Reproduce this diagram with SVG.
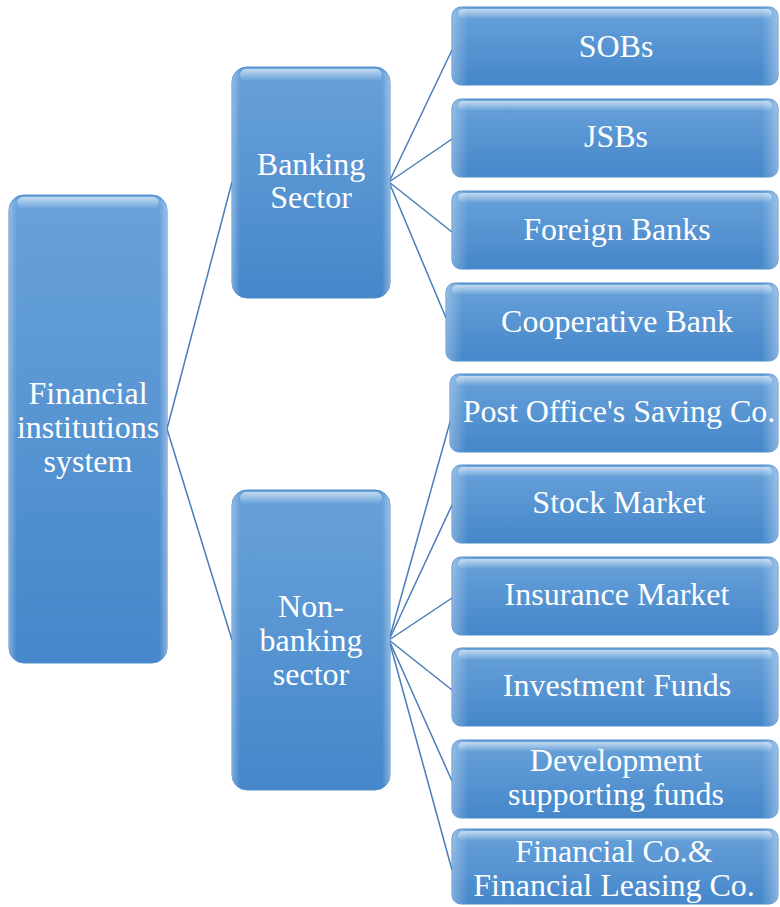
<svg xmlns="http://www.w3.org/2000/svg" width="780" height="907" viewBox="0 0 780 907">
<defs>
<linearGradient id="fill" x1="0" y1="0" x2="0" y2="1">
<stop offset="0" stop-color="#68a2da"/>
<stop offset="0.5" stop-color="#5794d2"/>
<stop offset="1" stop-color="#4587ca"/>
</linearGradient>
<linearGradient id="gloss" x1="0" y1="0" x2="0" y2="1">
<stop offset="0" stop-color="#ffffff" stop-opacity="0.6"/>
<stop offset="1" stop-color="#ffffff" stop-opacity="0"/>
</linearGradient>
<linearGradient id="side" x1="0" y1="0" x2="1" y2="0">
<stop offset="0" stop-color="#ffffff" stop-opacity="0.3"/>
<stop offset="0.05" stop-color="#ffffff" stop-opacity="0"/>
<stop offset="0.95" stop-color="#ffffff" stop-opacity="0"/>
<stop offset="1" stop-color="#ffffff" stop-opacity="0.35"/>
</linearGradient>
</defs>
<style>
.box{fill:url(#fill);stroke:#4d8bcb;stroke-width:1}
.side{fill:url(#side)}
.gl{fill:url(#gloss)}
.t{font-family:"Liberation Serif","Times New Roman",serif;font-size:32px;fill:#ffffff;text-anchor:middle}
.c{stroke:#4a7db8;stroke-width:1.5;fill:none}
</style>
<g id="connectors">
<line class="c" x1="167" y1="429" x2="232" y2="182"/>
<line class="c" x1="167" y1="429" x2="232" y2="640"/>
<line class="c" x1="389" y1="182" x2="452" y2="50"/>
<line class="c" x1="389" y1="182" x2="452" y2="139"/>
<line class="c" x1="389" y1="182" x2="452" y2="232"/>
<line class="c" x1="389" y1="182" x2="446" y2="318"/>
<line class="c" x1="389" y1="640" x2="452" y2="415"/>
<line class="c" x1="389" y1="640" x2="452" y2="505"/>
<line class="c" x1="389" y1="640" x2="452" y2="598"/>
<line class="c" x1="389" y1="640" x2="452" y2="690"/>
<line class="c" x1="389" y1="640" x2="452" y2="781"/>
<line class="c" x1="389" y1="640" x2="452" y2="870"/>
</g>
<g id="root">
<rect class="box" x="9" y="195" width="158" height="468" rx="15"/>
<rect class="side" x="9" y="195" width="158" height="468" rx="15"/>
<rect class="gl" x="17" y="197" width="142" height="12" rx="6"/>
<text class="t" x="88" y="404">Financial</text>
<text class="t" x="88" y="438">institutions</text>
<text class="t" x="88" y="472">system</text>
</g>
<g id="banking">
<rect class="box" x="232" y="67" width="158" height="231" rx="15"/>
<rect class="side" x="232" y="67" width="158" height="231" rx="15"/>
<rect class="gl" x="240" y="69" width="142" height="12" rx="6"/>
<text class="t" x="311" y="175">Banking</text>
<text class="t" x="311" y="208">Sector</text>
</g>
<g id="nonbanking">
<rect class="box" x="232" y="490" width="158" height="300" rx="15"/>
<rect class="side" x="232" y="490" width="158" height="300" rx="15"/>
<rect class="gl" x="240" y="492" width="142" height="12" rx="6"/>
<text class="t" x="311" y="617">Non-</text>
<text class="t" x="311" y="651">banking</text>
<text class="t" x="311" y="685">sector</text>
</g>
<g id="sobs">
<rect class="box" x="452" y="7" width="326" height="78" rx="9"/>
<rect class="side" x="452" y="7" width="326" height="78" rx="9"/>
<rect class="gl" x="458" y="9" width="314" height="10" rx="5"/>
<text class="t" x="616" y="57">SOBs</text>
</g>
<g id="jsbs">
<rect class="box" x="452" y="99" width="326" height="78" rx="9"/>
<rect class="side" x="452" y="99" width="326" height="78" rx="9"/>
<rect class="gl" x="458" y="101" width="314" height="10" rx="5"/>
<text class="t" x="616" y="147">JSBs</text>
</g>
<g id="foreign">
<rect class="box" x="452" y="191" width="326" height="78" rx="9"/>
<rect class="side" x="452" y="191" width="326" height="78" rx="9"/>
<rect class="gl" x="458" y="193" width="314" height="10" rx="5"/>
<text class="t" x="617" y="240">Foreign Banks</text>
</g>
<g id="cooperative">
<rect class="box" x="446" y="283" width="332" height="78" rx="9"/>
<rect class="side" x="446" y="283" width="332" height="78" rx="9"/>
<rect class="gl" x="452" y="285" width="320" height="10" rx="5"/>
<text class="t" x="617" y="332">Cooperative Bank</text>
</g>
<g id="postoffice">
<rect class="box" x="450" y="374" width="328" height="78" rx="9"/>
<rect class="side" x="450" y="374" width="328" height="78" rx="9"/>
<rect class="gl" x="456" y="376" width="316" height="10" rx="5"/>
<text class="t" x="619" y="422">Post Office's Saving Co.</text>
</g>
<g id="stock">
<rect class="box" x="452" y="465" width="326" height="78" rx="9"/>
<rect class="side" x="452" y="465" width="326" height="78" rx="9"/>
<rect class="gl" x="458" y="467" width="314" height="10" rx="5"/>
<text class="t" x="619" y="513">Stock Market</text>
</g>
<g id="insurance">
<rect class="box" x="452" y="557" width="326" height="78" rx="9"/>
<rect class="side" x="452" y="557" width="326" height="78" rx="9"/>
<rect class="gl" x="458" y="559" width="314" height="10" rx="5"/>
<text class="t" x="617" y="605">Insurance Market</text>
</g>
<g id="investment">
<rect class="box" x="452" y="648" width="326" height="78" rx="9"/>
<rect class="side" x="452" y="648" width="326" height="78" rx="9"/>
<rect class="gl" x="458" y="650" width="314" height="10" rx="5"/>
<text class="t" x="617" y="696">Investment Funds</text>
</g>
<g id="development">
<rect class="box" x="452" y="740" width="326" height="78" rx="9"/>
<rect class="side" x="452" y="740" width="326" height="78" rx="9"/>
<rect class="gl" x="458" y="742" width="314" height="10" rx="5"/>
<text class="t" x="616" y="771">Development</text>
<text class="t" x="616" y="805">supporting funds</text>
</g>
<g id="financialco">
<rect class="box" x="452" y="829" width="326" height="75" rx="9"/>
<rect class="side" x="452" y="829" width="326" height="75" rx="9"/>
<rect class="gl" x="458" y="831" width="314" height="10" rx="5"/>
<text class="t" x="614" y="862">Financial Co.&amp;</text>
<text class="t" x="614" y="896">Financial Leasing Co.</text>
</g>
</svg>
